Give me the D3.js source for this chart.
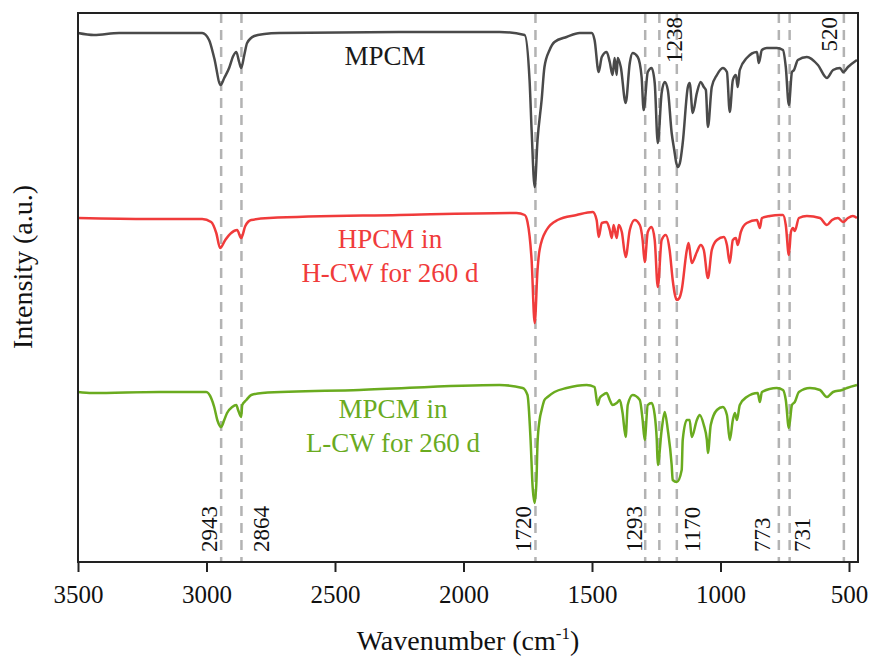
<!DOCTYPE html>
<html lang="en">
  <head>
    <meta charset="UTF-8" />
    <title>FTIR spectra</title>
    <style>
      body { margin: 0; background: #fff; }
      text { font-family: "Liberation Serif", "Times New Roman", serif; }
    </style>
  </head>
  <body>
    <svg id="chart" width="870" height="659"></svg>
    <script src="https://cdn.jsdelivr.net/npm/d3@7"></script>
    <script>
      // spectra (wavenumber in cm-1, intensity in a.u. with offsets)
      const mpcmWn = [3500,3438,3340,3017,2990,2970,2945,2931,2912,2896,2884,2873,2865,2853,2842,2814,2775,2717,2249,1860,1762,1743,1735,1723,1712,1696,1685,1665,1646,1599,1548,1501,1490,1474,1462,1443,1431,1420,1412,1404,1400,1388,1369,1353,1342,1322,1307,1299,1283,1268,1256,1244,1229,1217,1205,1190,1180,1172,1166,1158,1147,1127,1120,1108,1092,1077,1065,1057,1049,1034,1014,991,975,964,952,940,933,925,898,858,851,839,820,781,757,746,734,722,714,699,664,621,586,562,535,523,504,469];
      const mpcmI = [529,527,529,529,522,504,477,484,494,506,510,500,494,507,519,526,528,529,530,530,527,482,432,375,422,462,495,512,520,525,529,529,522,490,505,510,500,487,504,487,504,495,459,499,509,505,485,452,490,494,479,419,469,480,472,429,412,399,395,399,419,475,479,449,469,480,475,472,435,475,487,494,490,450,482,487,475,492,504,510,499,512,514,514,512,495,457,490,492,502,505,497,484,492,494,490,495,502];

      const hpcmWn = [3500,3223,3017,2982,2962,2947,2927,2904,2881,2865,2849,2826,2756,2249,1794,1762,1751,1735,1723,1712,1704,1677,1634,1560,1497,1482,1474,1462,1443,1431,1423,1416,1404,1396,1384,1369,1353,1334,1314,1303,1295,1283,1268,1256,1244,1229,1213,1198,1186,1178,1170,1160,1151,1131,1124,1112,1092,1077,1065,1049,1034,1014,987,975,964,952,940,933,921,898,858,847,839,808,769,757,746,734,726,718,711,695,664,613,586,566,543,523,504,485,469];
      const hpcmI = [344,343,343,340,329,314,322,329,332,324,336,342,344,347,349,347,340,302,239,292,312,332,342,347,350,342,325,339,340,332,324,337,324,337,330,305,332,342,337,322,300,330,335,322,275,322,327,312,282,268,262,264,272,312,319,299,310,317,312,284,312,322,325,317,299,322,324,317,330,339,342,334,344,346,347,347,337,307,330,334,331,344,346,344,337,342,344,340,344,346,344];

      const lcwWn = [3500,3445,3184,3001,2982,2970,2958,2943,2931,2920,2900,2884,2877,2865,2861,2845,2826,2783,2405,1860,1770,1751,1739,1731,1723,1716,1712,1704,1696,1685,1673,1646,1599,1521,1490,1478,1470,1458,1443,1431,1420,1404,1392,1381,1369,1361,1342,1314,1303,1295,1283,1268,1256,1248,1244,1229,1217,1205,1190,1186,1170,1151,1147,1131,1120,1112,1092,1081,1065,1053,1049,1038,1014,991,975,964,952,944,936,925,898,855,847,839,781,757,746,734,722,711,695,652,613,586,562,527,508,469];
      const lcwI = [170,169,170,170,164,155,142,135,142,149,155,157,152,145,157,162,167,169,172,177,174,167,122,75,59,82,119,142,152,162,165,170,174,177,175,157,164,167,169,162,157,159,162,149,125,157,167,162,142,122,157,159,147,122,97,132,150,132,97,82,80,92,122,142,142,125,142,147,137,122,109,137,152,155,147,122,142,149,142,157,165,169,160,170,174,172,162,134,157,160,170,174,172,165,170,172,174,177];

      const xTicks = [3500, 3000, 2500, 2000, 1500, 1000, 500];
      const peaks = [2943, 2864, 1720, 1293, 1238, 1170, 773, 731, 520];

      // label placement for each peak (offset of the rotated text from its dashed line)
      const peakLayout = {
        2943: { dx: -4, top: false }, 2864: { dx: 28, top: false },
        1720: { dx: -4, top: false }, 1293: { dx: -3, top: false },
        1238: { dx: 23, top: true },  1170: { dx: 23, top: false },
        773:  { dx: -9, top: false }, 731:  { dx: 20, top: false },
        520:  { dx: -7, top: true }
      };

      const svg = d3.select("#chart");
      const m = { left: 78, right: 858, top: 13, bottom: 562 };

      const x = d3.scaleLinear().domain([3500, 465]).range([m.left, m.right]);
      const y = d3.scaleLinear().domain([0, 549]).range([m.bottom, m.top]);

      // dashed peak markers
      svg.append("g").selectAll("line").data(peaks).enter().append("line")
        .attr("x1", d => x(d)).attr("x2", d => x(d))
        .attr("y1", m.top).attr("y2", m.bottom)
        .style("stroke", "#b3b3b3").style("stroke-width", 2.5)
        .style("stroke-dasharray", "10,7");

      svg.append("g").selectAll("text").data(peaks).enter().append("text")
        .attr("transform", d => {
          let p = peakLayout[d];
          return `translate(${x(d) + p.dx},${p.top ? 17 : 552}) rotate(-90)`;
        })
        .attr("text-anchor", d => peakLayout[d].top ? "end" : "start")
        .style("font-size", "23px").style("fill", "#111")
        .text(d => d);

      // spectra
      let line = d3.line().x(d => x(d[0])).y(d => y(d[1])).curve(d3.curveMonotoneX);
      let series = [
        { wn: mpcmWn, v: mpcmI, color: "#4a4a4a" },
        { wn: hpcmWn, v: hpcmI, color: "#f03b3b" },
        { wn: lcwWn, v: lcwI, color: "#6aab1f" }
      ];
      svg.append("g").selectAll("path").data(series).enter().append("path")
        .attr("d", s => line(d3.zip(s.wn, s.v)))
        .style("fill", "none").style("stroke", s => s.color)
        .style("stroke-width", 2.5).style("stroke-linejoin", "round");

      // series labels
      let labels = [
        { lines: ["MPCM"], color: "#1a1a1a", cx: 385, y0: 65 },
        { lines: ["HPCM in", "H-CW for 260 d"], color: "#f03b3b", cx: 390, y0: 248 },
        { lines: ["MPCM in", "L-CW for 260 d"], color: "#6aab1f", cx: 393, y0: 418 }
      ];
      labels.forEach(l => {
        let t = svg.append("text").attr("text-anchor", "middle")
          .style("font-size", "27px").style("fill", l.color);
        l.lines.forEach((s, i) => {
          t.append("tspan").attr("x", l.cx).attr("y", l.y0 + i * 34).text(s);
        });
      });

      // x axis
      let xAxis = d3.axisBottom(x).tickValues(xTicks).tickFormat(d3.format("d"))
        .tickSize(10).tickSizeOuter(0).tickPadding(13);
      let gx = svg.append("g").attr("transform", `translate(0,${m.bottom})`).call(xAxis);
      gx.select(".domain").remove();
      gx.selectAll(".tick line").style("stroke", "#222").style("stroke-width", 2);
      gx.selectAll(".tick text").style("font-size", "25px").style("fill", "#111")
        .style("font-family", '"Liberation Serif", serif');

      // frame
      svg.append("rect").attr("x", m.left).attr("y", m.top)
        .attr("width", m.right - m.left).attr("height", m.bottom - m.top)
        .style("fill", "none").style("stroke", "#222").style("stroke-width", 2);

      // axis titles
      let xt = svg.append("text").attr("x", 468).attr("y", 650)
        .attr("text-anchor", "middle").style("font-size", "28px").style("fill", "#111");
      xt.append("tspan").text("Wavenumber (cm");
      xt.append("tspan").attr("dy", -11).style("font-size", "17px").text("-1");
      xt.append("tspan").attr("dy", 11).text(")");

      svg.append("text").attr("transform", "translate(32,267) rotate(-90)")
        .attr("text-anchor", "middle").style("font-size", "28px").style("fill", "#111")
        .text("Intensity (a.u.)");
    </script>
  </body>
</html>
